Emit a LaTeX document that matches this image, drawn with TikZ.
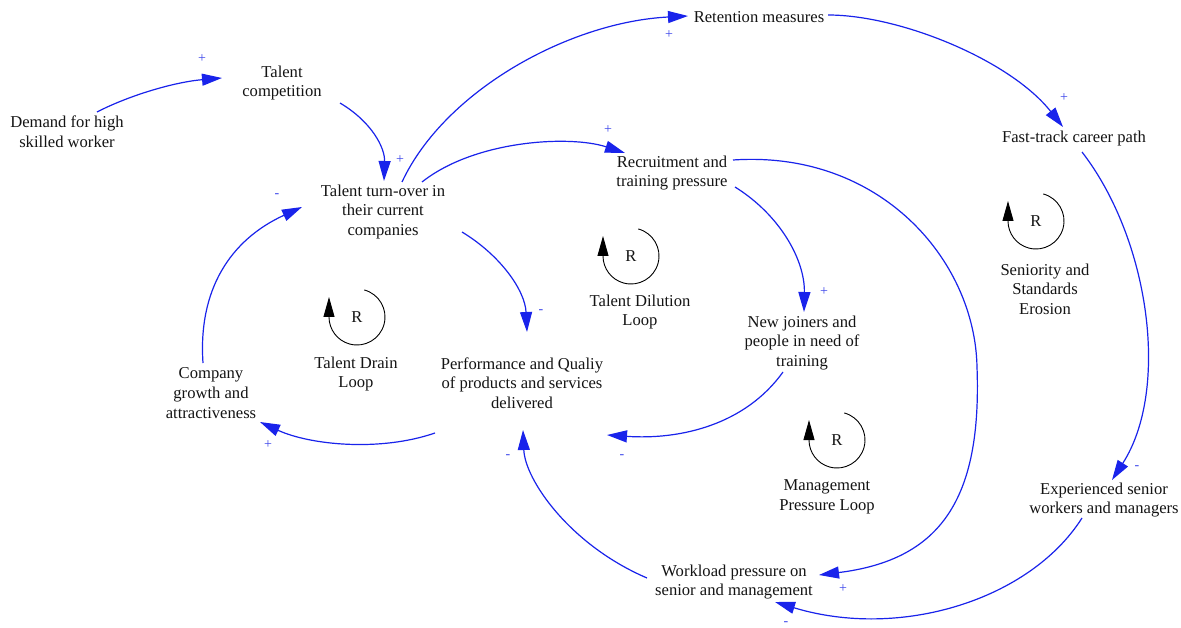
\documentclass[tikz,border=0pt]{standalone}
\usepackage{fontspec}
\setmainfont{Liberation Serif}
\usetikzlibrary{arrows.meta}
\definecolor{linkblue}{RGB}{25,35,235}
\definecolor{signblue}{RGB}{60,70,235}
\begin{document}
\begin{tikzpicture}[x=1pt,y=-1pt,
  var/.style={align=center,inner sep=0pt,font=\fontsize{16.6}{19.6}\selectfont,text=black!92},
  link/.style={draw=linkblue,line width=1.2pt,-{Triangle[length=20pt,width=12pt]}},
  pol/.style={text=signblue,font=\fontsize{14}{14}\selectfont,inner sep=0pt},
  rloop/.pic={
    \draw[line width=0.9pt,-{Triangle[length=20pt,width=11pt]}]
      (75:28pt) arc[start angle=75,end angle=-180,radius=28pt] -- ++(0pt,20pt);
    \node[var] (-r) at (0,0) {R};
  }]
\useasboundingbox[fill=white] (0,0) rectangle (1181,628);

% ---- variables ----
\node[var] (dem)  at (67,132)   {Demand for high\\skilled worker};
\node[var] (tc)   at (282,83)   {Talent\\competition};
\node[var] (tto)  at (383,212)  {Talent turn-over in\\their current\\companies};
\node[var] (ret)  at (759,17)   {Retention measures};
\node[var] (rec)  at (672,173)  {Recruitment and\\training pressure};
\node[var] (ft)   at (1074,139) {Fast-track career path};
\node[var] (nj)   at (802,343)  {New joiners and\\people in need of\\training};
\node[var] (perf) at (522,383)  {Performance and Qualiy\\of products and services\\delivered};
\node[var] (cg)   at (211,393)  {Company\\growth and\\attractiveness};
\node[var] (exp)  at (1104,500) {Experienced senior\\workers and managers};
\node[var] (wl)   at (734,582)  {Workload pressure on\\senior and management};

% ---- loop markers ----
\pic (drain) at (357,317) {rloop};
\node[var] (drainlbl) at (356,374) {Talent Drain\\Loop};
\pic (dilution) at (631,256) {rloop};
\node[var] (dilutionlbl) at (640,312) {Talent Dilution\\Loop};
\pic (seniority) at (1036,221) {rloop};
\node[var] (senioritylbl) at (1045,289) {Seniority and\\Standards\\Erosion};
\pic (mgmt) at (837,440) {rloop};
\node[var] (mgmtlbl) at (827,497) {Management\\Pressure Loop};

% ---- causal links ----
\draw[link] ([shift={(30,-20)}]dem.center) .. controls (130,95) and (175,82) .. ([shift={(-60,-5)}]tc.center);
\draw[link] ([shift={(58,20)}]tc.center) .. controls (372,122) and (385,148) .. ([shift={(1,-31)}]tto.center);
\draw[link] ([shift={(19,-30)}]tto.center) .. controls (445,90) and (570,22) .. ([shift={(-71,-1)}]ret.center);
\draw[link] ([shift={(39,-30)}]tto.center) .. controls (475,140) and (570,135) .. ([shift={(-47,-20)}]rec.center);
\draw[link] ([shift={(69,-2)}]ret.center) .. controls (900,15) and (1010,60) .. ([shift={(-11,-12)}]ft.center);
\draw[link] ([shift={(63,14)}]rec.center) .. controls (780,215) and (805,260) .. ([shift={(2,-31)}]nj.center);
\draw[link] ([shift={(61,-13)}]rec.center) .. controls (880,150) and (975,260) .. (977,367)
            .. controls (982,500) and (940,560) .. ([shift={(85,-7)}]wl.center);
\draw[link] ([shift={(8,13)}]ft.center) .. controls (1150,240) and (1170,390) .. ([shift={(8,-20)}]exp.center);
\draw[link] ([shift={(-22,18)}]exp.center) .. controls (1030,600) and (900,640) .. ([shift={(41,20)}]wl.center);
\draw[link] ([shift={(-87,-4)}]wl.center) .. controls (570,545) and (525,480) .. ([shift={(1,47)}]perf.center);
\draw[link] ([shift={(-19,29)}]nj.center) .. controls (745,425) and (680,440) .. ([shift={(85,52)}]perf.center);
\draw[link] ([shift={(79,20)}]tto.center) .. controls (500,255) and (525,290) .. ([shift={(5,-51)}]perf.center);
\draw[link] ([shift={(-87,50)}]perf.center) .. controls (380,452) and (310,445) .. ([shift={(49,29)}]cg.center);
\draw[link] ([shift={(-8,-30)}]cg.center) .. controls (198,290) and (230,240) .. ([shift={(-81,-5)}]tto.center);

% ---- polarities ----
\node[pol] (s1)  at (202,59)  {+};
\node[pol] (s2)  at (400,160) {+};
\node[pol] (s3)  at (669,35)  {+};
\node[pol] (s4)  at (608,130) {+};
\node[pol] (s5)  at (1064,98) {+};
\node[pol] (s6)  at (824,292) {+};
\node[pol] (s7)  at (843,589) {+};
\node[pol] (s8)  at (1137,468) {-};
\node[pol] (s9)  at (786,624) {-};
\node[pol] (s10) at (508,457) {-};
\node[pol] (s11) at (622,457) {-};
\node[pol] (s12) at (541,312) {-};
\node[pol] (s13) at (268,445) {+};
\node[pol] (s14) at (277,196) {-};
\end{tikzpicture}
\end{document}
